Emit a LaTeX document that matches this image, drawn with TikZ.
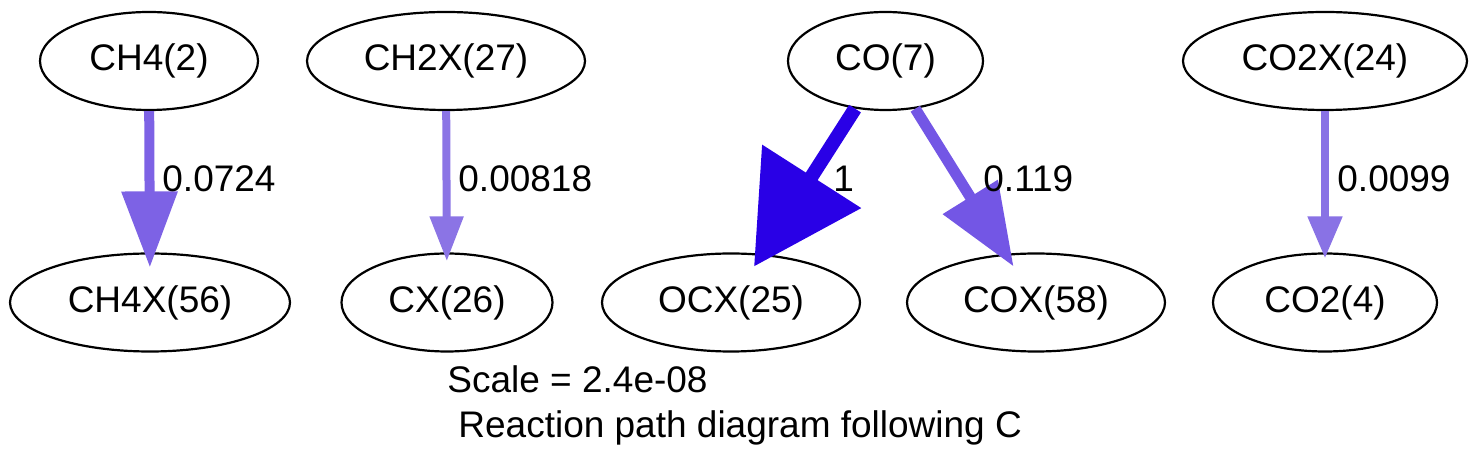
\documentclass[tikz,border=0pt]{standalone}
\usepackage{fontspec}
\setmainfont{Liberation Sans}
\usetikzlibrary{shapes.geometric,arrows.meta}

\definecolor{fluxA}{RGB}{41,0,230}
\definecolor{fluxB}{RGB}{115,86,229}
\definecolor{fluxC}{RGB}{125,98,229}
\definecolor{fluxD}{RGB}{139,116,229}
\definecolor{fluxE}{RGB}{137,114,229}

\begin{document}
\begin{tikzpicture}[x=0.5pt,y=-0.5pt,font=\fontsize{18.5}{22}\selectfont,
    species/.style={draw=black,ellipse,line width=1.1pt,inner sep=0pt,minimum height=49pt,minimum width=#1},
    flux/.style n args={5}{draw=#1,line width=#2,-{Triangle[length=#3,width=#4]},shorten >=#5},
    rate/.style={anchor=base west,inner sep=0pt}]
    \useasboundingbox (0,0) rectangle (1477,469);
    \node [species=109pt] (ch4) at (149,61) {CH4(2)};
    \node [species=139pt] (ch2x) at (446,61) {CH2X(27)};
    \node [species=97.5pt] (co) at (885.5,61) {CO(7)};
    \node [species=142pt] (co2x) at (1325,61) {CO2X(24)};
    \node [species=140pt] (ch4x) at (150,302.5) {CH4X(56)};
    \node [species=105.5pt] (cx) at (447,302.5) {CX(26)};
    \node [species=129pt] (ocx) at (731,302.5) {OCX(25)};
    \node [species=129pt] (cox) at (1036,302.5) {COX(58)};
    \node [species=112pt] (co2) at (1325,302.5) {CO2(4)};
    \draw [flux={fluxC}{5pt}{38pt}{27pt}{-7.5pt}] (ch4) -- (ch4x);
    \node [rate] (r1) at (162,192) {0.0724};
    \draw [flux={fluxD}{4pt}{22.5pt}{16pt}{-4.5pt}] (ch2x) -- (cx);
    \node [rate] (r2) at (458,192) {0.00818};
    \draw [flux={fluxA}{7pt}{53.5pt}{57pt}{-7.5pt}] (co) -- (ocx);
    \node [rate] (r3) at (833,192) {1};
    \draw [flux={fluxB}{5.5pt}{41pt}{31pt}{-7.5pt}] (co) -- (cox);
    \node [rate] (r4) at (983,192) {0.119};
    \draw [flux={fluxE}{4pt}{21pt}{16.5pt}{-3pt}] (co2x) -- (co2);
    \node [rate] (r5) at (1337,192) {0.0099};
    \node [rate] (scale) at (447,393) {Scale = 2.4e-08};
    \node [rate] (title) at (458,438) {Reaction path diagram following C};
\end{tikzpicture}
\end{document}
